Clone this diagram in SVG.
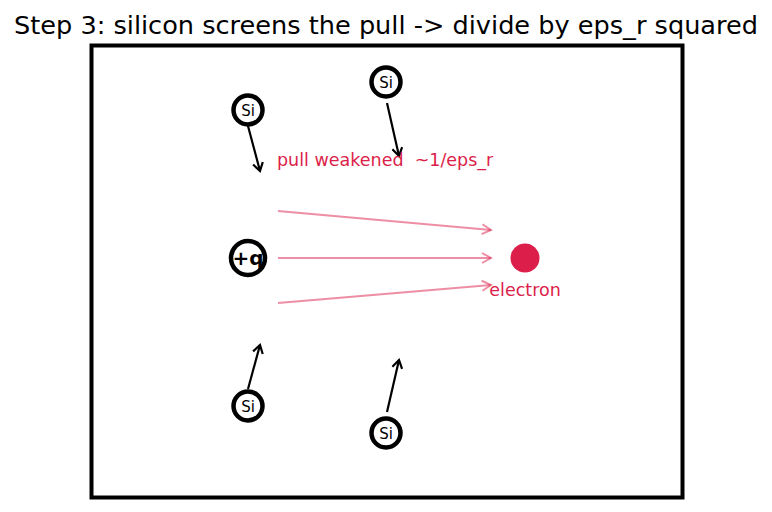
<svg xmlns="http://www.w3.org/2000/svg" width="772" height="512" viewBox="0 0 772 512">
<style>
text{font-family:"DejaVu Sans",sans-serif}
.si circle{fill:#fff;stroke:#000;stroke-width:4.5}
.si text{font-size:15px;text-anchor:middle;fill:#000}
.blk{stroke:#000;stroke-width:2.2;fill:none;marker-end:url(#ab)}
.pk{stroke:#dc1e4a;stroke-opacity:0.5;stroke-width:2;fill:none;marker-end:url(#ap)}
.lbl{fill:#dc1e4a;font-size:17.5px;white-space:pre}
</style>
<defs>
<marker id="ab" viewBox="-10 -6 12 12" refX="0" refY="0" markerWidth="12" markerHeight="12" markerUnits="userSpaceOnUse" orient="auto"><path d="M-8,-5 L0,0 L-8,5" fill="none" stroke="#000" stroke-width="2.2"/></marker>
<marker id="ap" viewBox="-10 -6 12 12" refX="0" refY="0" markerWidth="12" markerHeight="12" markerUnits="userSpaceOnUse" orient="auto"><path d="M-9,-5 L0,0 L-9,5" fill="none" stroke="#dc1e4a" stroke-opacity="0.5" stroke-width="2"/></marker>
</defs>
<rect width="772" height="512" fill="#fff"/>
<text x="386" y="34" font-size="25" text-anchor="middle" textLength="744" lengthAdjust="spacingAndGlyphs">Step 3: silicon screens the pull -&gt; divide by eps_r squared</text>
<rect x="91.5" y="45.5" width="591" height="452" fill="none" stroke="#000" stroke-width="4"/>
<g id="connectors">
<line class="blk" x1="248" y1="126" x2="260" y2="171"/>
<line class="blk" x1="387" y1="103" x2="399" y2="156"/>
<line class="blk" x1="248" y1="389" x2="260" y2="345"/>
<line class="blk" x1="387" y1="412" x2="399" y2="360"/>
<line class="pk" x1="278" y1="211" x2="491" y2="230"/>
<line class="pk" x1="278" y1="258" x2="491" y2="258"/>
<line class="pk" x1="278" y1="303" x2="491" y2="285"/>
</g>
<g id="si1" class="si"><circle cx="248" cy="110" r="14.5"/><text x="248" y="115.5">Si</text></g>
<g id="si2" class="si"><circle cx="386" cy="82" r="14.5"/><text x="386" y="87.5">Si</text></g>
<g id="si3" class="si"><circle cx="248" cy="406" r="14.5"/><text x="248" y="411.5">Si</text></g>
<g id="si4" class="si"><circle cx="386" cy="433" r="14.5"/><text x="386" y="438.5">Si</text></g>
<g id="charge"><circle cx="248" cy="258" r="17" fill="#fff" stroke="#000" stroke-width="4.5"/><text x="248" y="265" font-size="20" font-weight="bold" text-anchor="middle">+q</text></g>
<g id="electron"><circle cx="525" cy="258" r="14.5" fill="#dc1e4a"/><text class="lbl" x="525" y="296" text-anchor="middle">electron</text></g>
<g id="label"><text class="lbl" x="277" y="166" xml:space="preserve">pull weakened  ~1/eps_r</text></g>
</svg>
